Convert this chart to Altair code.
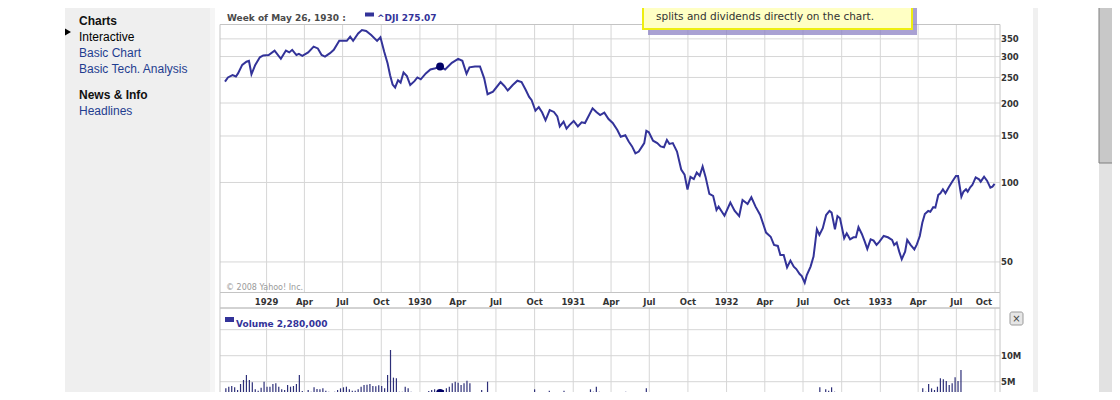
import altair as alt
import pandas as pd

OFF = 8  # page margin: reference pixel -> chart pixel

# ^DJI weekly closes
week_dates = [
    "1928-09-24", "1928-10-01", "1928-10-12", "1928-10-20", "1928-10-25", "1928-11-04",
    "1928-11-14", "1928-11-20", "1928-11-26", "1928-12-05", "1928-12-16", "1928-12-24",
    "1929-01-06", "1929-01-20", "1929-02-04", "1929-02-16", "1929-02-24", "1929-03-03",
    "1929-03-13", "1929-03-19", "1929-03-27", "1929-04-10", "1929-04-23", "1929-05-03",
    "1929-05-12", "1929-05-20", "1929-06-01", "1929-06-10", "1929-06-23", "1929-07-11",
    "1929-07-19", "1929-07-26", "1929-08-07", "1929-08-16", "1929-08-26", "1929-09-07",
    "1929-09-21", "1929-09-29", "1929-10-08", "1929-10-16", "1929-10-22", "1929-10-28",
    "1929-11-03", "1929-11-10", "1929-11-16", "1929-11-23", "1929-12-01", "1929-12-09",
    "1929-12-19", "1929-12-26",
    "1930-01-03", "1930-01-15", "1930-01-26", "1930-02-07", "1930-02-18", "1930-03-02",
    "1930-03-18", "1930-04-02", "1930-04-12", "1930-04-22", "1930-04-29", "1930-05-12",
    "1930-05-24", "1930-06-03", "1930-06-11", "1930-06-24", "1930-07-12", "1930-07-21",
    "1930-07-29", "1930-08-10", "1930-08-21", "1930-08-31", "1930-09-10", "1930-09-18",
    "1930-09-24", "1930-10-03", "1930-10-11", "1930-10-19", "1930-10-27", "1930-11-06",
    "1930-11-16", "1930-11-24", "1930-11-30", "1930-12-09", "1930-12-16", "1930-12-23",
    "1931-01-02", "1931-01-12", "1931-01-21", "1931-01-29", "1931-02-16", "1931-02-25",
    "1931-03-06", "1931-03-16", "1931-03-26", "1931-04-05", "1931-04-16", "1931-04-24",
    "1931-05-05", "1931-05-13", "1931-05-21", "1931-05-29", "1931-06-06", "1931-06-14",
    "1931-06-19", "1931-06-24", "1931-06-30", "1931-07-10", "1931-07-20", "1931-07-28",
    "1931-08-05", "1931-08-12", "1931-08-18", "1931-08-26", "1931-09-05", "1931-09-15",
    "1931-09-23", "1931-09-30", "1931-10-07", "1931-10-15", "1931-10-22", "1931-10-29",
    "1931-11-05", "1931-11-12", "1931-11-21", "1931-11-30", "1931-12-08", "1931-12-13",
    "1931-12-27",
    "1932-01-10", "1932-01-20", "1932-01-31", "1932-02-08", "1932-02-20", "1932-02-29",
    "1932-03-10", "1932-03-21", "1932-04-04", "1932-04-15", "1932-04-23", "1932-05-02",
    "1932-05-08", "1932-05-16", "1932-05-24", "1932-06-01", "1932-06-09", "1932-06-15",
    "1932-06-23", "1932-06-28", "1932-07-05", "1932-07-10", "1932-07-19", "1932-07-26",
    "1932-08-03", "1932-08-09", "1932-08-17", "1932-08-25", "1932-09-02", "1932-09-07",
    "1932-09-15", "1932-09-21", "1932-09-27", "1932-10-07", "1932-10-13", "1932-10-21",
    "1932-10-29", "1932-11-04", "1932-11-10", "1932-11-18", "1932-11-25", "1932-12-01",
    "1932-12-09", "1932-12-16", "1932-12-23", "1932-12-30",
    "1933-01-09", "1933-01-19", "1933-01-29", "1933-02-03", "1933-02-09", "1933-02-15",
    "1933-02-21", "1933-03-01", "1933-03-06", "1933-03-14", "1933-03-23", "1933-03-29",
    "1933-04-05", "1933-04-11", "1933-04-17", "1933-04-25", "1933-04-30", "1933-05-07",
    "1933-05-12", "1933-05-19", "1933-05-24", "1933-05-30", "1933-06-05", "1933-06-13",
    "1933-06-21", "1933-06-30", "1933-07-05", "1933-07-13", "1933-07-18", "1933-07-24",
    "1933-07-28", "1933-08-03", "1933-08-08", "1933-08-16", "1933-08-24", "1933-08-28",
    "1933-09-05", "1933-09-12", "1933-09-20", "1933-09-25", "1933-09-30",
]
dji_close = [
    241, 250, 255, 252, 259, 279, 287, 289, 257, 279, 298, 303,
    304, 316, 294, 316, 311, 318, 304, 307, 302, 311, 327, 322, 304, 300, 309, 318,
    344, 344, 357, 344, 367, 378, 375, 362, 344, 355, 313, 283, 255, 235, 229, 244,
    239, 261, 253, 234, 242, 250,
    246, 259, 268, 271, 275.07, 268, 284, 294, 289, 258, 273, 275, 275, 248, 216, 221,
    240, 232, 223, 234, 243, 240, 224, 211, 205, 187, 193, 184, 172, 188, 185, 178,
    163, 170, 160, 165,
    171, 163, 169, 168, 191, 185, 180, 184, 174, 168, 158, 149, 151, 143, 137, 129,
    131, 137, 141, 157, 155, 144, 141, 137, 136, 145, 140, 141, 131, 112, 107, 94,
    105, 103, 109, 106, 115, 105, 90.5, 89, 78.7, 81, 74.8,
    83.9, 78.2, 74.6, 85.8, 82.9, 87.9, 81, 75.3, 64.6, 62.3, 58, 57.5, 53.1, 53.1,
    47.7, 50.6, 48, 47, 45, 44.2, 41.7, 44.6, 48, 52.4, 66.5, 63.3, 67.1, 75.3, 78,
    76.9, 66.5, 74.6, 73.2, 61.5, 64.2, 60.9, 62, 62, 67.7, 63.8, 59.7, 56, 60.9,
    60.2, 58, 59.7,
    62.7, 62, 60.6, 58, 59.2, 54.7, 51.2, 54.7, 60.6, 58, 55.8, 58.3, 62.7, 70.4, 76,
    78, 77.5, 80.6, 80.3, 89.7, 91, 94.2, 91, 95.9, 100.7, 105.8, 105.8, 88.4, 92.3,
    94.2, 92.3, 95.9, 97.8, 104.6, 102.8, 100.7, 105.2, 101.6, 95.6, 96.4, 98.7,
]

# weekly volume in millions of shares, one bar per week from volume_start
volume_start = "1928-09-26"
volume_mil = [
    3.72, 4.04, 4.17, 3.92, 3.40, 4.56, 5.33, 6.29, 5.33, 4.88,
    3.53, 3.28, 3.85, 5.00, 4.04, 4.04, 4.56, 4.69, 4.04, 3.53,
    3.40, 4.37, 4.04, 4.17, 4.56, 6.29, 3.21, 2.96, 3.40, 3.08,
    3.92, 3.60, 3.53, 3.72, 3.28, 3.08, 2.76, 3.08, 3.40, 3.72,
    3.92, 4.04, 3.53, 3.28, 3.28, 3.53, 4.04, 4.37, 4.43, 4.56,
    4.17, 4.11, 4.30, 4.17, 3.72, 6.29, 11.10, 5.78, 5.65, 3.08,
    3.08, 4.04, 3.72, 3.08, 2.76, 2.63, 2.12, 2.44, 2.76, 3.21,
    3.40, 3.53, 3.08, 2.85, 3.40, 3.72, 4.04, 4.69, 5.00, 4.81,
    4.37, 4.69, 5.20, 4.69, 2.63, 2.44, 2.76, 3.40, 2.76, 5.00,
    2.76, 1.99, 1.80, 2.63, 1.99, 1.80, 1.80, 1.80, 1.80, 1.80,
    1.80, 1.93, 1.80, 2.76, 2.89, 3.53, 2.76, 2.57, 2.12, 1.30,
    3.28, 2.25, 1.80, 1.30, 1.30, 3.28, 2.89, 2.44, 1.99, 1.99,
    1.30, 1.80, 1.30, 1.30, 3.53, 3.08, 4.04, 3.08, 2.89, 2.57,
    2.44, 2.44, 2.12, 2.44, 2.31, 2.76, 3.08, 2.12, 1.80, 2.12,
    2.25, 2.76, 1.93, 3.72, 2.12, 1.80, 1.30, 1.30, 1.30, 1.30,
    1.30, 1.30, 1.30, 1.30, 1.99, 2.63, 2.89, 2.89, 2.89, 1.30,
    1.80, 1.30, 1.80, 1.80, 1.30, 1.99, 1.80, 1.99, 2.76, 1.99,
    1.80, 1.80, 1.80, 1.30, 1.30, 1.30, 1.99, 1.80, 1.30, 1.30,
    1.30, 1.80, 1.30, 1.30, 1.99, 1.30, 1.30, 1.30, 1.30, 1.30,
    1.30, 1.30, 1.80, 1.30, 1.30, 1.30, 1.30, 1.30, 1.30, 1.30,
    1.80, 2.44, 3.92, 2.89, 3.53, 3.28, 3.92, 3.08, 2.57, 2.12,
    1.80, 1.80, 1.30, 1.30, 1.80, 1.30, 1.30, 1.30, 1.30, 1.30,
    1.30, 1.30, 1.30, 1.30, 1.30, 1.30, 1.30, 1.30, 1.30, 1.30,
    1.30, 1.30, 2.25, 1.30, 1.30, 1.30, 1.30, 3.72, 3.08, 4.56,
    3.72, 3.40, 4.04, 5.65, 5.46, 5.13, 4.37, 4.69, 5.84, 5.13,
    7.25, 2.76, 2.44, 2.12, 2.44, 2.63, 2.12, 2.44, 2.25, 2.89, 2.12,
]

tick_dates = [
    "1929-01-01", "1929-04-01", "1929-07-01", "1929-10-01",
    "1930-01-01", "1930-04-01", "1930-07-01", "1930-10-01",
    "1931-01-01", "1931-04-01", "1931-07-01", "1931-10-01",
    "1932-01-01", "1932-04-01", "1932-07-01", "1932-10-01",
    "1933-01-01", "1933-04-01", "1933-07-01", "1933-10-01",
]
tick_labels = [
    "1929", "Apr", "Jul", "Oct", "1930", "Apr", "Jul", "Oct",
    "1931", "Apr", "Jul", "Oct", "1932", "Apr", "Jul", "Oct",
    "1933", "Apr", "Jul", "Oct",
]
price_ticks = [50, 100, 150, 200, 250, 300, 350]
volume_grid = [5, 10, 15]
volume_ticks = [5, 10]
volume_tick_labels = ["5M", "10M"]

hover_date = "1930-02-18"
hover_close = 275.07
hover_volume = 2.85

menu_items = ["Interactive", "Basic Chart", "Basic Tech. Analysis"]

LINE = "#333399"
BAR = "#2d2f78"
DOT = "#000066"
GRID = "#d6d6d6"
BORDER = "#c4c4c4"
AXIS_TXT = "#333333"
LINK = "#1f3d8f"
BOLD = "DejaVu Sans"
SANS = "Liberation Sans"


def ref(v):
    return v - OFF


ONE = pd.DataFrame({"k": [0]})


def rect(x1, y1, x2, y2, **style):
    return alt.Chart(ONE).mark_rect(**style).encode(
        x=alt.value(ref(x1)), x2=alt.value(ref(x2)),
        y=alt.value(ref(y1)), y2=alt.value(ref(y2)),
    )


def label(s, x, y, **style):
    style.setdefault("align", "left")
    return alt.Chart(ONE).mark_text(**style).encode(
        x=alt.value(ref(x)), y=alt.value(ref(y)), text=alt.value(s)
    )


X_SCALE = alt.Scale(
    type="utc",
    domain=[alt.DateTime(year=1928, month=9, date=24, utc=True),
            alt.DateTime(year=1933, month=10, date=1, utc=True)],
    range=[ref(220), ref(1000)],
)
PRICE_SCALE = alt.Scale(type="log", domain=[38.3, 395], range=[ref(292.5), ref(25)], nice=False)
VOL_SCALE = alt.Scale(domain=[0, 19.17], range=[ref(407.7), ref(308)], nice=False)


def xdate(field="date"):
    return alt.X(f"{field}:T", scale=X_SCALE, axis=None)


dji = pd.DataFrame({"date": week_dates, "close": dji_close})
vol = pd.DataFrame({
    "date": pd.date_range(volume_start, periods=len(volume_mil), freq="7D").strftime("%Y-%m-%d"),
    "vol": volume_mil,
})
ticks = pd.DataFrame({"date": tick_dates, "label": tick_labels})
hover = pd.DataFrame({"date": [hover_date], "close": [hover_close], "vol": [hover_volume]})
pticks = pd.DataFrame({"v": price_ticks})
vgrid = pd.DataFrame({"v": volume_grid})
vticks = pd.DataFrame({"v": volume_ticks, "label": volume_tick_labels})

layers = [
    # page furniture
    rect(65, 0, 210, 400, fill="#efefef"),
    rect(210, 0, 215, 400, fill="#f5f5f5"),
    rect(1033, 0, 1038, 400, fill="#f0f0f0"),
]

# gridlines
layers += [
    alt.Chart(ticks).mark_rule(color=GRID).encode(
        x=xdate(), y=alt.value(ref(25)), y2=alt.value(ref(292.5))),
    alt.Chart(ticks).mark_rule(color=GRID).encode(
        x=xdate(), y=alt.value(ref(308)), y2=alt.value(ref(402))),
    alt.Chart(pticks).mark_rule(color=GRID).encode(
        y=alt.Y("v:Q", scale=PRICE_SCALE, axis=None),
        x=alt.value(ref(220)), x2=alt.value(ref(1000))),
    alt.Chart(vgrid).mark_rule(color=GRID).encode(
        y=alt.Y("v:Q", scale=VOL_SCALE, axis=None),
        x=alt.value(ref(220)), x2=alt.value(ref(1000))),
    rect(220, 24.5, 1000, 292.5, fill="transparent", stroke=BORDER, strokeWidth=1),
    rect(220, 292.5, 1000, 308, fill="white", stroke=BORDER, strokeWidth=1),
    rect(220, 308, 1000, 420, fill="transparent", stroke=BORDER, strokeWidth=1),
]

# series
layers += [
    alt.Chart(vol).mark_bar(size=1.2, color=BAR).encode(
        x=xdate(), y=alt.Y("vol:Q", scale=VOL_SCALE, axis=None)),
    alt.Chart(dji).mark_line(color=LINE, strokeWidth=2).encode(
        x=xdate(), y=alt.Y("close:Q", scale=PRICE_SCALE, axis=None)),
    alt.Chart(hover).mark_circle(size=62, color=DOT, opacity=1).encode(
        x=xdate(), y=alt.Y("close:Q", scale=PRICE_SCALE, axis=None)),
    alt.Chart(hover).mark_circle(size=62, color=DOT, opacity=1).encode(
        x=xdate(), y=alt.Y("vol:Q", scale=VOL_SCALE, axis=None)),
]

# headers and legends
layers += [
    label("Week of May 26, 1930 :", 227, 17.5, font=BOLD, fontWeight="bold",
          fontSize=9, color="#4a4a4a"),
    rect(365, 12.5, 374, 16.5, fill=LINE),
    label(f"^DJI {hover_close:.2f}", 377, 17.5, font=BOLD, fontWeight="bold",
          fontSize=9, color=LINE),
    label("\u00a9 2008 Yahoo! Inc.", 226, 288, font=BOLD, fontSize=8, color="#9a9a9a"),
    rect(221, 309, 330, 328, fill="white"),
    rect(225, 317, 234, 322, fill=LINE),
    label("Volume 2,280,000", 236, 323.5, font=BOLD, fontWeight="bold",
          fontSize=9, color=LINE),
]

# axis labels
axis_style = dict(font=BOLD, fontWeight="bold", fontSize=8.5, color=AXIS_TXT)
layers += [
    alt.Chart(ticks.iloc[:-1]).mark_text(baseline="alphabetic", **axis_style).encode(
        x=xdate(), y=alt.value(ref(305)), text="label:N"),
    alt.Chart(ticks.iloc[-1:]).mark_text(align="right", dx=-3, baseline="alphabetic",
                                         **axis_style).encode(
        x=xdate(), y=alt.value(ref(305)), text="label:N"),
    alt.Chart(pticks).mark_text(align="left", baseline="middle", dy=0.5, **axis_style).encode(
        y=alt.Y("v:Q", scale=PRICE_SCALE, axis=None), x=alt.value(ref(1001)), text="v:Q"),
    alt.Chart(vticks).mark_text(align="left", baseline="middle", dy=0.5, **axis_style).encode(
        y=alt.Y("v:Q", scale=VOL_SCALE, axis=None), x=alt.value(ref(1001)), text="label:N"),
]

# close button
layers += [
    rect(1010, 312, 1023, 325, fill="#e6e6e6", stroke="#9a9a9a", strokeWidth=1, cornerRadius=2),
    label("\u00d7", 1016.5, 319, align="center", baseline="middle", font=BOLD,
          fontSize=10, color="#444444"),
]

# sidebar
layers += [
    label("Charts", 79, 20.5, font=SANS, fontWeight="bold", fontSize=12, color="#111111"),
    alt.Chart(ONE).mark_point(shape="triangle-right", filled=True, size=48,
                              color="#000000", opacity=1).encode(
        x=alt.value(ref(68)), y=alt.value(ref(32))),
    label(menu_items[0], 79, 36.5, font=SANS, fontSize=12, color="#000000"),
    label(menu_items[1], 79, 52.5, font=SANS, fontSize=12, color=LINK),
    label(menu_items[2], 79, 68.5, font=SANS, fontSize=12, color=LINK),
    label("News & Info", 79, 95, font=SANS, fontWeight="bold", fontSize=12, color="#111111"),
    label("Headlines", 79, 111, font=SANS, fontSize=12, color=LINK),
]

# scrollbar
layers += [
    rect(1099, 163, 1114, 402, fill="#e2e2e2"),
    rect(1099, -2, 1114, 163, fill="#c8c8c8", stroke="#7f7f7f", strokeWidth=1),
]

# yellow tip box
layers += [
    rect(648, -10, 917, 35, fill="#8c82c4", opacity=0.75),
    rect(643, -12, 912, 29, fill="#ffffc4", stroke="#eeee10", strokeWidth=2),
    label("splits and dividends directly on the chart.", 656, 17, font=BOLD,
          fontSize=10.5, color="#333333"),
]

chart = (
    alt.layer(*layers)
    .resolve_scale(y="independent")
    .properties(width=1104, height=384, padding=0, autosize="none", background="white")
    .configure_view(stroke=None)
)

chart.save("out.html", embed_options={"renderer": "svg", "actions": False})
